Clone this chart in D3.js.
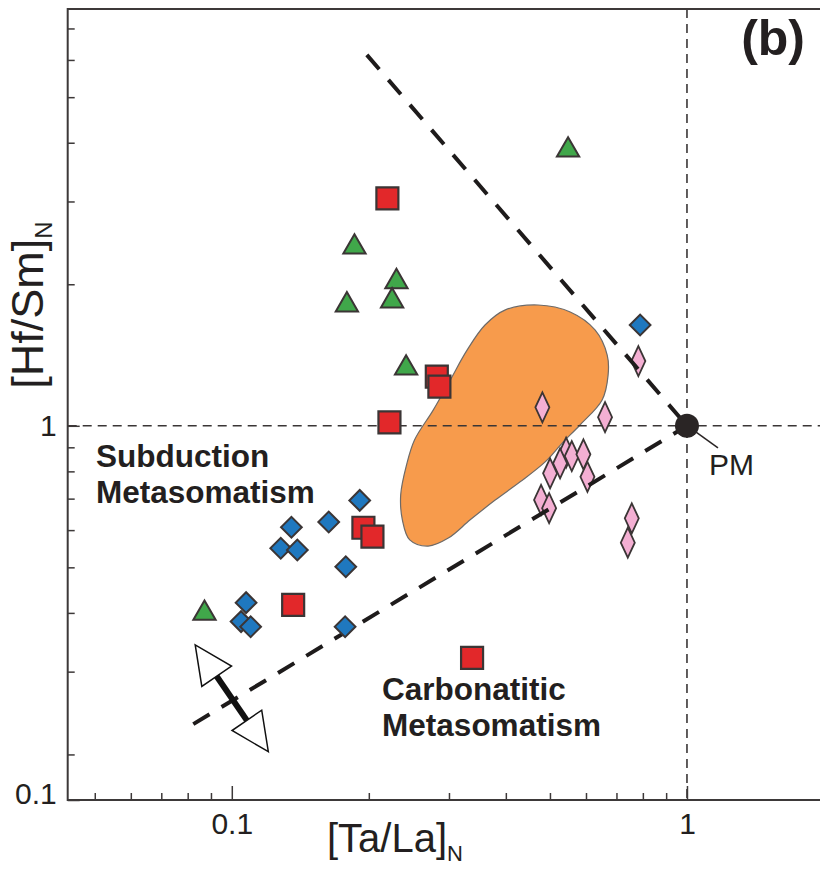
<!DOCTYPE html>
<html><head><meta charset="utf-8">
<script src="https://cdn.jsdelivr.net/npm/d3@7"></script>
<style>body{margin:0;background:#fff}svg{display:block}</style>
</head><body><svg id="c" width="820" height="870"></svg>
<script>
// ---- data ----
const xDomain = [0.0436, 1.96];
const yDomain = [0.16, 7.7];
const xTickValues = [0.1, 1];
const xTickLabels = ["0.1", "1"];
const xMinorTicks = [0.05, 0.06, 0.07, 0.08, 0.09, 0.2, 0.3, 0.4, 0.5, 0.6, 0.7, 0.8, 0.9];
const yTickValues = [0.16, 1];
const yTickLabels = ["0.1", "1"];
const yMinorTicks = [0.2, 0.3, 0.4, 0.5, 0.6, 0.7, 0.8, 0.9, 2, 3, 4, 5, 6, 7];

const greenTriangles = [
  [0.548, 3.86], [0.186, 2.40], [0.230, 2.025], [0.179, 1.807],
  [0.225, 1.843], [0.2415, 1.326], [0.0871, 0.399]
];
const redSquares = [
  [0.2197, 3.047], [0.2821, 1.272], [0.2858, 1.211], [0.222, 1.017],
  [0.1946, 0.607], [0.2037, 0.581], [0.1364, 0.416], [0.3372, 0.321]
];
const blueDiamonds = [
  [0.789, 1.638], [0.191, 0.694], [0.1633, 0.6243], [0.1352, 0.6084],
  [0.1281, 0.5489], [0.1393, 0.5443], [0.178, 0.5015], [0.1075, 0.4206],
  [0.1048, 0.3833], [0.110, 0.3739], [0.1774, 0.3739]
];
const pinkDiamonds = [
  [0.782, 1.373], [0.4812, 1.095], [0.6607, 1.043], [0.5426, 0.8765],
  [0.5584, 0.8624], [0.5922, 0.8695], [0.5263, 0.8322], [0.5003, 0.7924],
  [0.6044, 0.7791], [0.478, 0.6954], [0.4979, 0.6679], [0.7564, 0.6357],
  [0.7413, 0.5641]
];
const pmPoint = [1, 1];
const blobOutline = [
  [0.471, 1.807], [0.554, 1.746], [0.628, 1.599], [0.668, 1.414], [0.671, 1.282],
  [0.651, 1.135], [0.582, 1.004], [0.532, 0.919], [0.488, 0.838], [0.430, 0.760],
  [0.379, 0.695], [0.334, 0.631], [0.299, 0.577], [0.270, 0.555], [0.246, 0.572],
  [0.237, 0.631], [0.235, 0.713], [0.242, 0.825], [0.252, 0.933], [0.277, 1.080],
  [0.302, 1.252], [0.329, 1.450], [0.360, 1.638], [0.399, 1.764]
];
const upperTrend = [[0.198, 6.15], [1, 1]];
const lowerTrend = [[0.0823, 0.232], [1, 1]];
const arrowTips = [[0.0831, 0.342], [0.1203, 0.2027]];
const annotations = [
  {lines: ["Subduction", "Metasomatism"], at: [0.0503, 0.817]},
  {lines: ["Carbonatitic", "Metasomatism"], at: [0.2139, 0.261]}
];

// ---- drawing ----
const FONT = "'Liberation Sans', Arial, Helvetica, sans-serif";
const INK = "#231f20";
const EDGE = "#3b3535";
const svg = d3.select("#c");
const x = d3.scaleLog().domain(xDomain).range([67.7, 820]);
const y = d3.scaleLog().domain(yDomain).range([800, 9]);
const X0 = x.range()[0], X1 = x.range()[1], Y0 = y.range()[0], Y1 = y.range()[1];

// orange field
svg.append("path").datum(blobOutline)
  .attr("d", d3.line().x(d => x(d[0])).y(d => y(d[1])).curve(d3.curveCatmullRomClosed.alpha(0.5)))
  .attr("fill", "#f79b4c").attr("stroke", "#6d6a68").attr("stroke-width", 1.2);

// thin reference lines through PM
svg.append("line").attr("x1", x(pmPoint[0])).attr("x2", x(pmPoint[0])).attr("y1", Y1).attr("y2", Y0)
  .attr("stroke", "#3a3636").attr("stroke-width", 1.6).attr("stroke-dasharray", "9,6");
svg.append("line").attr("x1", X0).attr("x2", X1).attr("y1", y(pmPoint[1])).attr("y2", y(pmPoint[1]))
  .attr("stroke", "#3a3636").attr("stroke-width", 1.6).attr("stroke-dasharray", "9,6");

// frame
const frame = svg.append("g").attr("stroke", "#3d3939").attr("stroke-width", 2).attr("fill", "none");
frame.append("path").attr("d", `M${X1},${Y1}H${X0}V${Y0}H${X1}`);

function styleAxis(g) {
  g.select(".domain").remove();
  g.selectAll("line").attr("stroke", "#3d3939").attr("stroke-width", 1.5);
  g.selectAll("text").attr("fill", INK).attr("font-family", FONT).attr("font-size", 30);
}
svg.append("g").attr("transform", `translate(0,${Y0})`)
  .call(d3.axisBottom(x).tickValues(xMinorTicks).tickSize(-7).tickFormat("")).call(styleAxis);
svg.append("g").attr("transform", `translate(0,${Y0})`)
  .call(d3.axisBottom(x).tickValues(xTickValues).tickSize(-14).tickPadding(13)
    .tickFormat((d, i) => xTickLabels[i])).call(styleAxis);
svg.append("g").attr("transform", `translate(${X0},0)`)
  .call(d3.axisLeft(y).tickValues(yMinorTicks).tickSize(-7).tickFormat("")).call(styleAxis);
const gy = svg.append("g").attr("transform", `translate(${X0},0)`)
  .call(d3.axisLeft(y).tickValues(yTickValues).tickSize(-12).tickPadding(11)
    .tickFormat((d, i) => yTickLabels[i])).call(styleAxis);
gy.selectAll("text").filter((d, i) => i === 0).attr("dy", "0.1em");

// axis titles
const xt = svg.append("text").attr("x", 327).attr("y", 852).attr("font-family", FONT)
  .attr("font-size", 40).attr("fill", INK).text("[Ta/La]");
xt.append("tspan").attr("font-size", 22).attr("dy", 9).text("N");
const yt = svg.append("text").attr("transform", "translate(43,305) rotate(-90)")
  .attr("text-anchor", "middle").attr("font-family", FONT).attr("font-size", 45).attr("fill", INK).text("[Hf/Sm]");
yt.append("tspan").attr("font-size", 24).attr("dy", 9).text("N");

// pink diamonds
svg.append("g").selectAll("path").data(pinkDiamonds).join("path")
  .attr("transform", d => `translate(${x(d[0])},${y(d[1])})`)
  .attr("d", "M0,-15L7,0L0,15L-7,0Z")
  .attr("fill", "#f4afd3").attr("stroke", EDGE).attr("stroke-width", 1.8);

// thick dashed trend lines
const lineGen = d3.line().x(d => x(d[0])).y(d => y(d[1]));
[upperTrend, lowerTrend].forEach(t => svg.append("path").attr("d", lineGen(t))
  .attr("fill", "none").attr("stroke", "#1e1b1b").attr("stroke-width", 4).attr("stroke-dasharray", "19,14"));

// arrows
(function () {
  const p0 = [x(arrowTips[0][0]), y(arrowTips[0][1])];
  const p1 = [x(arrowTips[1][0]), y(arrowTips[1][1])];
  const dx = p1[0] - p0[0], dy = p1[1] - p0[1], L = Math.hypot(dx, dy);
  const ux = dx / L, uy = dy / L, nx = -uy, ny = ux;
  const headLen = 38, headHalf = 18;
  const b0 = [p0[0] + ux * headLen, p0[1] + uy * headLen];
  const b1 = [p1[0] - ux * headLen, p1[1] - uy * headLen];
  const g = svg.append("g");
  g.append("line").attr("x1", b0[0]).attr("y1", b0[1]).attr("x2", b1[0]).attr("y2", b1[1])
    .attr("stroke", "#111").attr("stroke-width", 6);
  [[p0, b0], [p1, b1]].forEach(([tip, base]) => {
    g.append("path").attr("d", `M${tip[0]},${tip[1]}L${base[0] + nx * headHalf},${base[1] + ny * headHalf}L${base[0] - nx * headHalf},${base[1] - ny * headHalf}Z`)
      .attr("fill", "#fff").attr("stroke", "#111").attr("stroke-width", 1.5);
  });
})();

// blue diamonds
svg.append("g").selectAll("path").data(blueDiamonds).join("path")
  .attr("transform", d => `translate(${x(d[0])},${y(d[1])}) rotate(45)`)
  .attr("d", d3.symbol(d3.symbolSquare, 215))
  .attr("fill", "#1f78bf").attr("stroke", EDGE).attr("stroke-width", 2);

// red squares
svg.append("g").selectAll("path").data(redSquares).join("path")
  .attr("transform", d => `translate(${x(d[0])},${y(d[1])})`)
  .attr("d", d3.symbol(d3.symbolSquare, 484))
  .attr("fill", "#e2282a").attr("stroke", EDGE).attr("stroke-width", 2.2);

// green triangles
svg.append("g").selectAll("path").data(greenTriangles).join("path")
  .attr("transform", d => `translate(${x(d[0])},${y(d[1])})`)
  .attr("d", d3.symbol(d3.symbolTriangle, 215))
  .attr("fill", "#40a74a").attr("stroke", EDGE).attr("stroke-width", 2);

// PM
const pmx = x(pmPoint[0]), pmy = y(pmPoint[1]);
svg.append("line").attr("x1", pmx + 6).attr("y1", pmy + 4).attr("x2", pmx + 31).attr("y2", pmy + 22)
  .attr("stroke", "#2a2525").attr("stroke-width", 1.5);
svg.append("circle").attr("cx", pmx).attr("cy", pmy).attr("r", 12).attr("fill", "#2a2525");
svg.append("text").attr("x", pmx + 22).attr("y", pmy + 49).attr("font-family", FONT)
  .attr("font-size", 30).attr("fill", INK).text("PM");

// annotations
annotations.forEach(a => {
  const t = svg.append("text").attr("font-family", FONT).attr("font-weight", "bold")
    .attr("font-size", 31.5).attr("fill", INK);
  a.lines.forEach((s, i) => t.append("tspan").attr("x", x(a.at[0])).attr("y", y(a.at[1]) + i * 36).text(s));
});

// panel label
svg.append("text").attr("x", 805).attr("y", 55).attr("text-anchor", "end").attr("font-family", FONT)
  .attr("font-weight", "bold").attr("font-size", 50).attr("fill", INK).text("(b)");
</script></body></html>
